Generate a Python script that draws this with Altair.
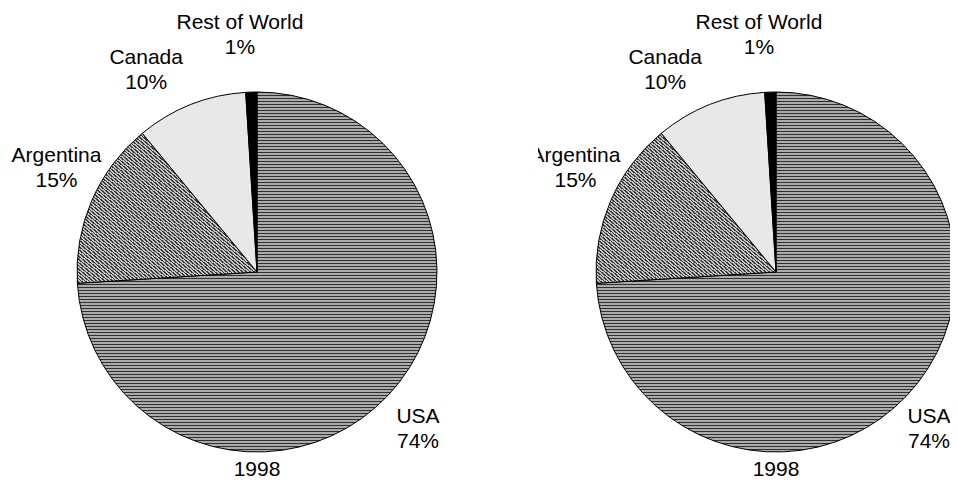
import altair as alt
import pandas as pd

# ---- data ----
countries = ["USA", "Argentina", "Canada", "Rest of World"]
shares = [74, 15, 10, 1]
panel_years = ["1998", "1998"]

df = pd.DataFrame({
    "country": countries,
    "share": shares,
    "rank": list(range(len(countries))),
})
df["label"] = df["country"] + "\n" + df["share"].astype(str) + "%"
TOTAL = float(sum(shares))

# ---- styling ----
FONT = "Liberation Sans"
R = 180
LABEL_R = 225
# small label nudges (px) to mimic the hand-placed labels of the original
LABEL_NUDGE = {
    "USA": (-3, -9.5),
    "Argentina": (6, -26.5),
    "Canada": (-28, -5),
    "Rest of World": (-10, -24),
}


def stripe_gradient(n, dark, light, dark_frac, x1, y1, x2, y2):
    stops = []
    for i in range(n):
        a = i / n
        b = (i + dark_frac) / n
        c = (i + 1) / n
        stops += [
            {"offset": round(a, 6), "color": dark},
            {"offset": round(b, 6), "color": dark},
            {"offset": round(b, 6), "color": light},
            {"offset": round(c, 6), "color": light},
        ]
    return {"gradient": "linear", "x1": x1, "y1": y1, "x2": x2, "y2": y2, "stops": stops}


usa_fill = stripe_gradient(120, "#303030", "#ababab", 1 / 3, 0, 0, 0, 1)
arg_fill = stripe_gradient(92, "#3a3a3a", "#c4c4c4", 0.45, 1, 0, 0, 1)

fill = (
    alt.when(alt.datum.country == "USA").then(alt.value(usa_fill))
    .when(alt.datum.country == "Argentina").then(alt.value(arg_fill))
    .when(alt.datum.country == "Rest of World").then(alt.value("#000000"))
    .otherwise(alt.value("#e8e8e8"))
)

theta_scale = alt.Scale(domain=[0, TOTAL])


def stacked(chart):
    return chart.transform_window(
        cum="sum(share)", sort=[alt.SortField("rank", order="ascending")],
        frame=[None, 0],
    ).transform_calculate(
        start="datum.cum - datum.share",
        mid="datum.cum - datum.share / 2",
    )


def panel(cx, cy, year, width, height, clip, usa_shift=0):
    arcs = stacked(alt.Chart(df)).mark_arc(
        radius=R, stroke="#000000", strokeWidth=1, clip=clip
    ).encode(
        theta=alt.Theta("start:Q", scale=theta_scale),
        theta2="cum:Q",
        fill=fill,
        x=alt.value(cx), y=alt.value(cy),
    )
    layers = [arcs]
    for c in countries:
        ndx, ndy = LABEL_NUDGE[c]
        if c == "USA":
            ndx += usa_shift
        layers.append(
            stacked(alt.Chart(df)).transform_filter(alt.datum.country == c).mark_text(
                radius=LABEL_R, font=FONT, fontSize=21, lineBreak="\n", lineHeight=25,
                color="#000000", clip=clip, dx=ndx, dy=ndy,
            ).encode(
                theta=alt.Theta("mid:Q", scale=theta_scale),
                text="label:N",
                x=alt.value(cx), y=alt.value(cy),
            )
        )
    yr = alt.Chart(pd.DataFrame({"year": [year]})).mark_text(
        font=FONT, fontSize=21, baseline="alphabetic", color="#000000", clip=True
    ).encode(text="year:N", x=alt.value(cx), y=alt.value(height - 1))
    layers.append(yr)
    return alt.layer(*layers).properties(width=width, height=height)


left = panel(249, 264, panel_years[0], 530, 469, False)
right = panel(238, 264, panel_years[1], 412, 469, True, usa_shift=-8)

chart = (
    alt.hconcat(left, right, spacing=0)
    .properties(padding=0, background="white")
    .configure_view(stroke=None)
)

chart.save("out.html", embed_options={"renderer": "svg", "actions": False})
